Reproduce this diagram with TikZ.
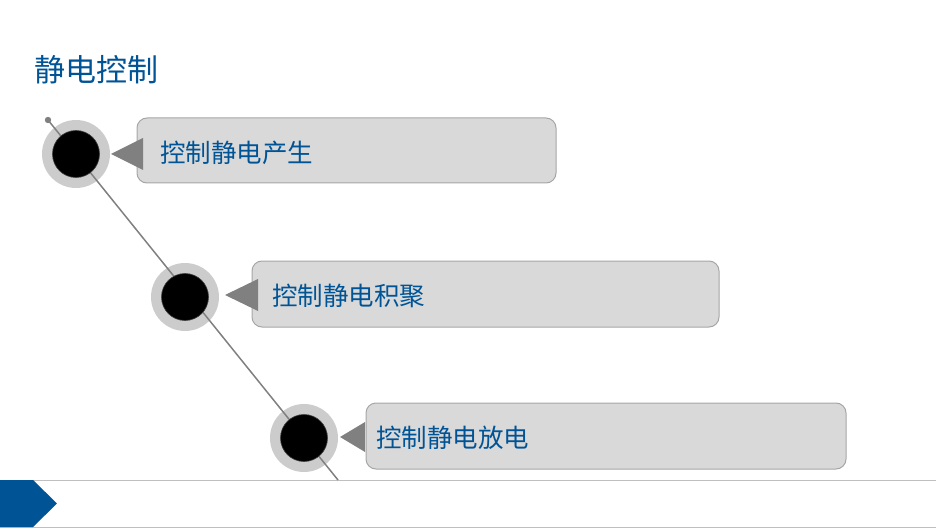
\documentclass[tikz,border=0pt]{standalone}
\usepackage{fontspec}
\newfontfamily\cjk{Noto Sans CJK SC}
\definecolor{tblue}{RGB}{0,84,150}
\definecolor{ringgray}{RGB}{204,204,204}
\definecolor{boxfill}{RGB}{217,217,217}
\definecolor{boxline}{RGB}{166,166,166}
\definecolor{trigray}{RGB}{128,128,128}
\definecolor{linegray}{RGB}{128,128,128}
\definecolor{rulegray}{RGB}{191,191,191}
\tikzset{
  ring/.style={circle,fill=ringgray,minimum size=68pt,inner sep=0pt},
  disk/.style={circle,fill=black,draw=black!75,line width=0.6pt,minimum size=47pt,inner sep=0pt},
  card/.style={draw=boxline,fill=boxfill,rounded corners=10pt,line width=1pt,inner sep=0pt},
  cardtext/.style={anchor=west,text=tblue,font=\cjk\fontsize{25.5}{30}\selectfont,inner sep=0pt},
  pointer/.style={fill=trigray,draw=none},
}
\begin{document}
\begin{tikzpicture}[x=1pt,y=-1pt]
\useasboundingbox (0,0) rectangle (936,529);
% title
\node[anchor=west,text=tblue,font=\cjk\fontsize{31}{36}\selectfont,inner sep=0pt] (title) at (34,70) {静电控制};
% bottom rules and marker
\coordinate (r1a) at (0,480.5);
\coordinate (r1b) at (936,480.5);
\coordinate (r2a) at (0,527.5);
\coordinate (r2b) at (936,527.5);
\draw[rulegray,line width=1pt] (r1a) -- (r1b);
\draw[rulegray,line width=1pt] (r2a) -- (r2b);
\fill[tblue] (0,480) -- (33,480) -- (57,503.5) -- (33,527) -- (0,527) -- cycle;
% rings
\node[ring] (ring1) at (76,154) {};
\node[ring] (ring2) at (185,297) {};
\node[ring] (ring3) at (304,438) {};
% diagonal line
\coordinate (start) at (48,120);
\coordinate (end) at (338,480);
\draw[linegray,line width=1.5pt] (start) -- (end);
\fill[linegray] (start) circle (3.2pt);
% disks
\node[disk] (disk1) at (ring1) {};
\node[disk] (disk2) at (ring2) {};
\node[disk] (disk3) at (ring3) {};
% cards
\node[card,minimum width=419pt,minimum height=65pt] (card1) at (346.5,150.5) {};
\node[card,minimum width=467pt,minimum height=66pt] (card2) at (485.5,294) {};
\node[card,minimum width=480pt,minimum height=66pt] (card3) at (606,436) {};
% pointers
\fill[pointer] (111,154) -- (143,138) -- (143,170) -- cycle;
\fill[pointer] (225,295) -- (258,279) -- (258,311) -- cycle;
\fill[pointer] (340,437) -- (365,422) -- (365,452) -- cycle;
% texts
\node[cardtext] (t1) at (160,153) {控制静电产生};
\node[cardtext] (t2) at (272,296) {控制静电积聚};
\node[cardtext] (t3) at (376,438) {控制静电放电};
\end{tikzpicture}
\end{document}
